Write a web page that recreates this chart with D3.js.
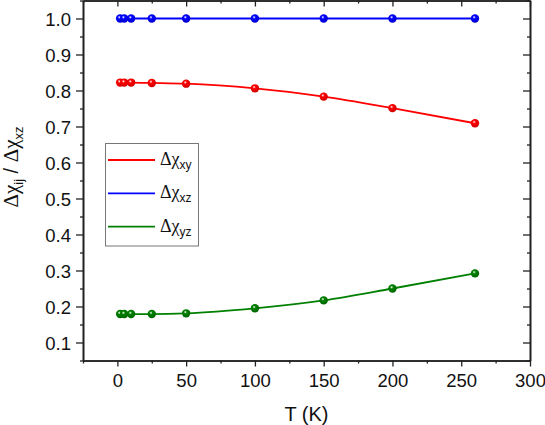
<!DOCTYPE html>
<html lang="en">
<head>
    <meta charset="UTF-8">
    <title>Anisotropy ratio vs temperature</title>
    <script src="https://d3js.org/d3.v7.min.js"></script>
    <style>
        body { margin: 0; background: white; }
        .tick-label { font-family: Arial, "Liberation Sans", sans-serif; font-size: 18.5px; fill: #111; }
        .greek { font-family: "Liberation Serif", "Times New Roman", serif; }
        .sub { font-family: Arial, "Liberation Sans", sans-serif; }
    </style>
</head>
<body>
    <svg id="chart" width="545" height="425"></svg>
    <script>
        // data
        const temps = [2, 5, 10, 25, 50, 100, 150, 200, 260];
        const xyValues = [0.822, 0.822, 0.822, 0.821, 0.819, 0.806, 0.783, 0.751, 0.709];
        const xzValues = [1.0, 1.0, 1.0, 1.0, 1.0, 1.0, 1.0, 1.0, 1.0];
        const yzValues = [0.179, 0.179, 0.179, 0.179, 0.181, 0.195, 0.217, 0.250, 0.292];
        const xTicks = [0, 50, 100, 150, 200, 250, 300];
        const yTicks = [0.1, 0.2, 0.3, 0.4, 0.5, 0.6, 0.7, 0.8, 0.9, 1.0];

        const series = [
            { sub: "xy", color: "#ff0000", values: xyValues },
            { sub: "xz", color: "#0000ff", values: xzValues },
            { sub: "yz", color: "#008000", values: yzValues }
        ];

        const svg = d3.select("#chart");
        const plotLeft = 83, plotRight = 530, plotTop = 0.5, plotBottom = 360.5;

        const x = d3.scaleLinear().domain([-25, 300]).range([plotLeft, plotRight]);
        const y = d3.scaleLinear().domain([0.05, 1.05]).range([plotBottom, plotTop]);

        const xMinor = d3.range(-25, 301, 25).filter(v => v % 50 !== 0);
        const yMinor = d3.range(0.05, 1.051, 0.1).map(v => +v.toFixed(2));

        // gradients for the shaded markers
        const defs = svg.append("defs");
        series.forEach((s, i) => {
            const grad = defs.append("radialGradient")
                .attr("id", "ball" + i)
                .attr("cx", "40%").attr("cy", "35%").attr("r", "65%");
            grad.append("stop").attr("offset", "0%").attr("stop-color", "#ffffff");
            grad.append("stop").attr("offset", "30%").attr("stop-color", s.color);
            grad.append("stop").attr("offset", "100%").attr("stop-color", d3.color(s.color).darker(0.6));
        });

        // lines
        const line = d3.line()
            .x((d, i) => x(temps[i]))
            .y(d => y(d))
            .curve(d3.curveMonotoneX);

        series.forEach((s, i) => {
            svg.append("path")
                .attr("d", line(s.values))
                .attr("fill", "none")
                .attr("stroke", s.color)
                .attr("stroke-width", 1.8);

            svg.append("g")
                .selectAll("circle")
                .data(s.values)
                .join("circle")
                .attr("cx", (d, j) => x(temps[j]))
                .attr("cy", d => y(d))
                .attr("r", 4.2)
                .attr("fill", `url(#ball${i})`);
        });

        // axes: left/bottom ticks out, top/right ticks in
        const frame = "#222";
        const axisBottom = svg.append("g").attr("transform", `translate(0,${plotBottom})`)
            .call(d3.axisBottom(x).tickValues(xTicks).tickSize(6).tickSizeOuter(0).tickPadding(4));
        axisBottom.selectAll("text").attr("class", "tick-label").attr("dy", "0.88em");
        svg.append("g").attr("transform", `translate(0,${plotBottom})`)
            .call(d3.axisBottom(x).tickValues(xMinor).tickSize(3).tickSizeOuter(0).tickFormat(""));

        const axisLeft = svg.append("g").attr("transform", `translate(${plotLeft},0)`)
            .call(d3.axisLeft(y).tickValues(yTicks).tickSize(7).tickSizeOuter(0).tickPadding(5)
                .tickFormat(d3.format(".1f")));
        axisLeft.selectAll("text").attr("class", "tick-label").attr("dy", "0.36em");
        svg.append("g").attr("transform", `translate(${plotLeft},0)`)
            .call(d3.axisLeft(y).tickValues(yMinor).tickSize(3).tickSizeOuter(0).tickFormat(""));

        svg.append("g").attr("transform", `translate(0,${plotTop})`)
            .call(d3.axisBottom(x).tickValues(xTicks).tickSize(6).tickSizeOuter(0).tickFormat(""));
        svg.append("g").attr("transform", `translate(0,${plotTop})`)
            .call(d3.axisBottom(x).tickValues(xMinor).tickSize(3).tickSizeOuter(0).tickFormat(""));
        svg.append("g").attr("transform", `translate(${plotRight},0)`)
            .call(d3.axisLeft(y).tickValues(yTicks).tickSize(7).tickSizeOuter(0).tickFormat(""));
        svg.append("g").attr("transform", `translate(${plotRight},0)`)
            .call(d3.axisLeft(y).tickValues(yMinor).tickSize(3).tickSizeOuter(0).tickFormat(""));

        svg.selectAll(".domain").attr("stroke", frame).attr("stroke-width", 1.6);
        svg.selectAll(".tick line").attr("stroke", frame).attr("stroke-width", 1.3);

        // axis titles
        svg.append("text")
            .attr("x", (plotLeft + plotRight) / 2)
            .attr("y", 421)
            .attr("text-anchor", "middle")
            .attr("font-family", "Arial, 'Liberation Sans', sans-serif")
            .attr("font-size", 20)
            .attr("fill", "#111")
            .text("T (K)");

        const yTitle = svg.append("text")
            .attr("transform", "translate(18,167) rotate(-90)")
            .attr("text-anchor", "middle")
            .attr("font-size", 21)
            .attr("fill", "#111");
        yTitle.append("tspan").attr("class", "greek").text("Δχ");
        yTitle.append("tspan").attr("class", "sub").attr("font-size", 13).attr("dy", 5).text("ij");
        yTitle.append("tspan").attr("class", "sub").attr("font-size", 20).attr("dy", -5).text(" / ");
        yTitle.append("tspan").attr("class", "greek").text("Δχ");
        yTitle.append("tspan").attr("class", "sub").attr("font-size", 13).attr("dy", 5).text("xz");

        // legend
        const legend = svg.append("g");
        legend.append("rect")
            .attr("x", 105.5).attr("y", 143.5)
            .attr("width", 93).attr("height", 102.5)
            .attr("fill", "white")
            .attr("stroke", "#777")
            .attr("stroke-width", 1);

        series.forEach((s, i) => {
            const ly = 160 + i * 33.3;
            legend.append("line")
                .attr("x1", 108).attr("x2", 155)
                .attr("y1", ly).attr("y2", ly)
                .attr("stroke", s.color)
                .attr("stroke-width", 1.8);
            const t = legend.append("text")
                .attr("x", 160).attr("y", ly + 5)
                .attr("font-size", 18)
                .attr("fill", "#111");
            t.append("tspan").attr("class", "greek").text("Δχ");
            t.append("tspan").attr("class", "sub").attr("font-size", 12).attr("dy", 4).text(s.sub);
        });
    </script>
</body>
</html>
